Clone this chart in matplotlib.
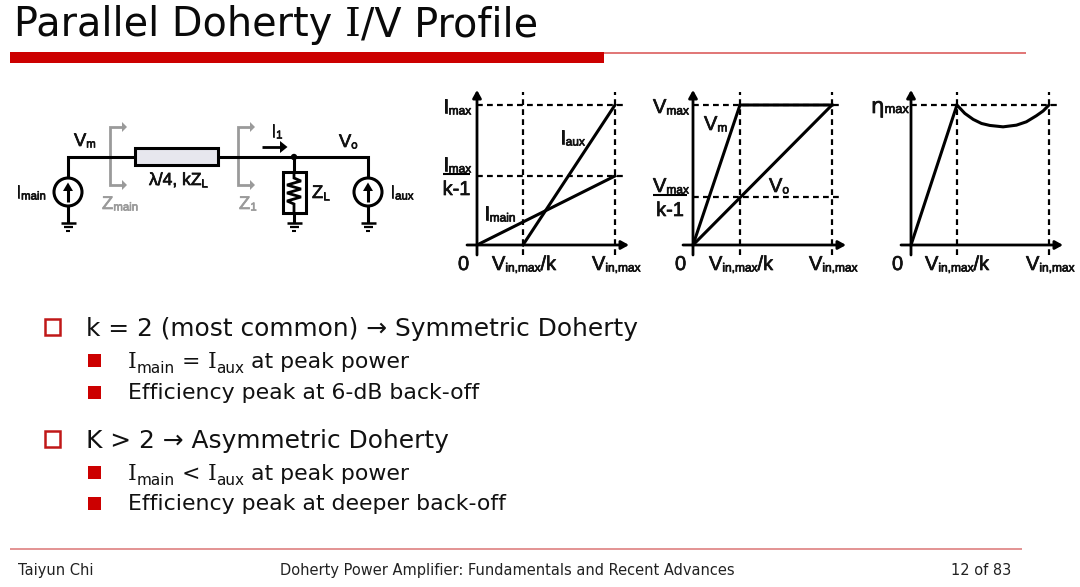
import matplotlib
matplotlib.use("Agg")
import matplotlib.pyplot as plt
from matplotlib.patches import Rectangle, Circle
import matplotlib.patheffects as pe

W, H = 1080, 587
RED = "#CC0000"
INK = "#111111"
GRAY = "#9A9A9A"
ARIAL = "Liberation Sans"
SANS = "DejaVu Sans"
SERIF = "DejaVu Serif"

# ---- chart data (normalised: 1 = Vin,max / Imax / Vmax / eta max)
i_main_x = [0, 1]
i_main_y = [0, 0.493]
i_aux_x = [0.333, 1]
i_aux_y = [0, 1]

v_m_x = [0, 0.338, 1]
v_m_y = [0, 1, 1]
v_o_x = [0, 1]
v_o_y = [0, 1]
v_mid_level = [0.343]

eta_x = [0, 0.333, 0.39, 0.451, 0.511, 0.571, 0.667, 0.764, 0.836, 0.908, 0.957, 1]
eta_y = [0, 1, 0.94, 0.897, 0.868, 0.854, 0.844, 0.856, 0.880, 0.923, 0.957, 1]
eta_level = [1]

footer_left = "Taiyun Chi"
footer_mid = "Doherty Power Amplifier: Fundamentals and Recent Advances"
footer_right = "12 of 83"

fig = plt.figure(figsize=(W / 100, H / 100), dpi=100)
bg = fig.add_axes([0, 0, 1, 1])
bg.set_xlim(0, W)
bg.set_ylim(H, 0)
bg.axis("off")
rend = fig.canvas.get_renderer()


def width(s, size, fam):
    t = bg.text(0, 0, s + "|", fontsize=size, family=fam)
    a = t.get_window_extent(rend).width
    t.set_text("|")
    b = t.get_window_extent(rend).width
    t.remove()
    return a - b


def chain(x, y, parts, fam=SANS, color=INK, heavy=0.0):
    """Draw consecutive text runs: (string, size[, baseline shift[, family]])."""
    for p in parts:
        s, size = p[0], p[1]
        dy = p[2] if len(p) > 2 else 0
        f = p[3] if len(p) > 3 else fam
        t = bg.text(x, y + dy, s, fontsize=size, family=f, color=color, va="baseline", ha="left")
        if heavy:
            t.set_path_effects([pe.withStroke(linewidth=heavy, foreground=color)])
        x += width(s, size, f)
    return x


D = 13.2   # diagram main size
S = 8.2    # diagram subscript size
HV = 0.5


def lab(x, y, main, sub="", color=INK, size=D, ssize=S):
    parts = [(main, size)]
    if sub:
        parts.append((sub, ssize, 1.5))
    chain(x, y, parts, fam=ARIAL, color=color, heavy=HV)


# ---- slide furniture
T = 28.65
chain(14, 36, [("Parallel Doherty ", T), ("I", T, 0, SERIF), ("/V Profile", T)], color="#0A0A0A")
bg.add_patch(Rectangle((10, 52), 594, 11, fc=RED, ec="none"))
bg.plot([604, 1026], [52.5, 52.5], color="#D85050", lw=1.1, solid_capstyle="butt")
bg.plot([10, 1022], [548.5, 548.5], color="#E08A8A", lw=1.3, solid_capstyle="butt")
bg.text(18, 575, footer_left, fontsize=10.5, family=SANS, color="#222222", va="baseline")
bg.text(280, 575, footer_mid, fontsize=10.5, family=SANS, color="#222222", va="baseline")
bg.text(951, 575, footer_right, fontsize=10.5, family=SANS, color="#222222", va="baseline")

# ---- bullets
for y0 in (319, 431):
    bg.add_patch(Rectangle((44.5, y0), 15.5, 15.5, fc="white", ec="#C01818", lw=1.8))
for y0 in (354, 386, 466, 497):
    bg.add_patch(Rectangle((88, y0), 13, 13, fc=RED, ec="none"))

B = 17.9
B2 = 15.85
SB = 11.0
chain(86, 336, [("k = 2 (most common) → Symmetric Doherty", B)])
chain(86, 448, [("K > 2 → Asymmetric Doherty", B)])
chain(128, 368, [("I", B2, 0, SERIF), ("main", SB, 5), (" = ", B2), ("I", B2, 0, SERIF), ("aux", SB, 5), (" at peak power", B2)])
chain(128, 399, [("Efficiency peak at 6-dB back-off", B2)])
chain(128, 480, [("I", B2, 0, SERIF), ("main", SB, 5), (" < ", B2), ("I", B2, 0, SERIF), ("aux", SB, 5), (" at peak power", B2)])
chain(128, 510, [("Efficiency peak at deeper back-off", B2)])

# ---- circuit
LW = 2.2


def wire(xs, ys, color="black", lw=LW):
    bg.plot(xs, ys, color=color, lw=lw, solid_capstyle="butt", solid_joinstyle="miter")


def ground(x, y):
    wire([x - 7.5, x + 7.5], [y, y], lw=1.8)
    wire([x - 4.5, x + 4.5], [y + 4, y + 4], lw=1.6)
    wire([x - 2, x + 2], [y + 8, y + 8], lw=1.5)


def source(x, y):
    bg.add_patch(Circle((x, y), 14, fc="white", ec="black", lw=LW, zorder=3))
    wire_line = bg.plot([x, x], [y - 3, y + 9.5], color="black", lw=2.2, solid_capstyle="butt", zorder=4)
    bg.fill([x - 5, x, x + 5], [y - 1, y - 9.5, y - 1], color="black", lw=0, zorder=4)


def probe(x):
    wire([x + 13, x, x, x + 13], [127, 127, 185, 185], color=GRAY, lw=2)
    for yy in (127, 185):
        bg.fill([x + 12, x + 17, x + 12], [yy - 5, yy, yy + 5], color=GRAY, lw=0)


probe(110)
probe(238)
wire([68, 68, 135], [178, 157, 157])
wire([218, 368, 368], [157, 157, 178])
bg.add_patch(Rectangle((135, 148), 83, 17, fc="#E7E7EE", ec="black", lw=LW, zorder=3))
wire([68, 68], [206, 223])
wire([368, 368], [206, 223])
wire([294, 294], [157, 172])
wire([294, 294], [213, 223])
bg.add_patch(Rectangle((283, 172), 23, 41, fc="white", ec="black", lw=LW))
wire([294, 294, 301, 287, 301, 287, 301, 287, 294, 294],
     [172, 178, 181, 185, 189, 193, 197, 201, 204, 213], lw=2)
bg.add_patch(Circle((294, 157), 3.2, fc="black", ec="none", zorder=4))
source(68, 192)
source(368, 192)
for gx in (68, 294, 368):
    ground(gx, 223)
wire([262, 282], [147, 147], lw=2)
bg.fill([280, 287.5, 280], [141, 147, 153], color="black", lw=0)

lab(74, 146, "V", "m")
lab(16, 198, "I", "main")
lab(102, 209, "Z", "main", color=GRAY)
chain(149, 185, [("λ/4, kZ", D - 0.6), ("L", S, 1.5)], fam=ARIAL, heavy=HV)
lab(271, 137, "I", "1")
lab(239, 209, "Z", "1", color=GRAY)
lab(312, 198, "Z", "L")
lab(339, 147, "V", "o")
lab(390, 198, "I", "aux")


# ---- the three transfer plots
def panel(x0, x1, y0, y1, kx, hlevels, series):
    ax = fig.add_axes([x0 / W, 1 - y0 / H, (x1 - x0) / W, (y0 - y1) / H])
    ax.set_xlim(0, 1)
    ax.set_ylim(0, 1)
    ax.patch.set_alpha(0)
    ax.axis("off")
    dash = dict(color="black", lw=1.6, ls=(0, (2.6, 1.9)), clip_on=False, zorder=1)
    top = 1 + 13 / (y0 - y1)
    bot = -10 / (y0 - y1)
    for xv in (kx, 1):
        ax.plot([xv, xv], [bot, top], **dash)
    for yv in hlevels:
        ax.plot([0, 1 + 11 / (x1 - x0)], [yv, yv], **dash)
    for sx, sy in series:
        ax.plot(sx, sy, color="black", lw=2.2, clip_on=False, zorder=2, solid_joinstyle="miter")
    head = dict(arrowstyle="-|>,head_length=0.45,head_width=0.25", color="black", lw=2.0, shrinkA=0, shrinkB=0)
    ax.annotate("", xy=(1 + 14 / (x1 - x0), 0), xytext=(-10 / (x1 - x0), 0), annotation_clip=False, arrowprops=head)
    ax.annotate("", xy=(0, 1 + 15 / (y0 - y1)), xytext=(0, -10 / (y0 - y1)), annotation_clip=False, arrowprops=head)
    return ax


panel(477, 615, 245, 105, i_aux_x[0], [i_main_y[1], i_aux_y[1]],
      [(i_main_x, i_main_y), (i_aux_x, i_aux_y)])
panel(693, 832, 245, 105, v_m_x[1], [v_mid_level[0], v_o_y[1]],
      [(v_m_x, v_m_y), (v_o_x, v_o_y)])
panel(911, 1049, 245, 105, eta_x[1], eta_level, [(eta_x, eta_y)])

PS = 14.4
PSS = 8.6


def xlabels(x_zero, x_k, x_max):
    chain(x_zero, 270, [("0", PS)], fam=ARIAL, heavy=HV)
    chain(x_k, 270, [("V", PS), ("in,max", PSS, 1.5), ("/k", PS)], fam=ARIAL, heavy=HV)
    chain(x_max, 270, [("V", PS), ("in,max", PSS, 1.5)], fam=ARIAL, heavy=HV)


def frac(x, x_end, y_num, y_den, main):
    lab(x, y_num, main, "max", size=PS, ssize=PSS)
    wire([x, x_end], [y_num + 3, y_num + 3], lw=1.5)
    bg.text((x + x_end) / 2, y_den, "k-1", fontsize=PS, family=ARIAL, color=INK, ha="center", va="baseline",
            path_effects=[pe.withStroke(linewidth=HV, foreground=INK)])


xlabels(458, 492, 592)
xlabels(675, 709, 809)
xlabels(892, 925, 1026)

lab(443, 113, "I", "max", size=PS, ssize=PSS)
frac(443, 470, 171, 195, "I")
lab(560, 144, "I", "aux", size=PS, ssize=PSS)
lab(484, 220, "I", "main", size=PS, ssize=PSS)

lab(653, 113, "V", "max", size=PS, ssize=PSS)
frac(653, 687, 192, 216, "V")
lab(704, 130, "V", "m", size=PS, ssize=PSS)
lab(769, 192, "V", "o", size=PS, ssize=PSS)

chain(871, 113, [("η", PS + 1, 0, SANS), ("max", PSS + 0.6, 0, ARIAL)], fam=ARIAL, heavy=HV)

fig.savefig("out.png", dpi=100, facecolor="white")
